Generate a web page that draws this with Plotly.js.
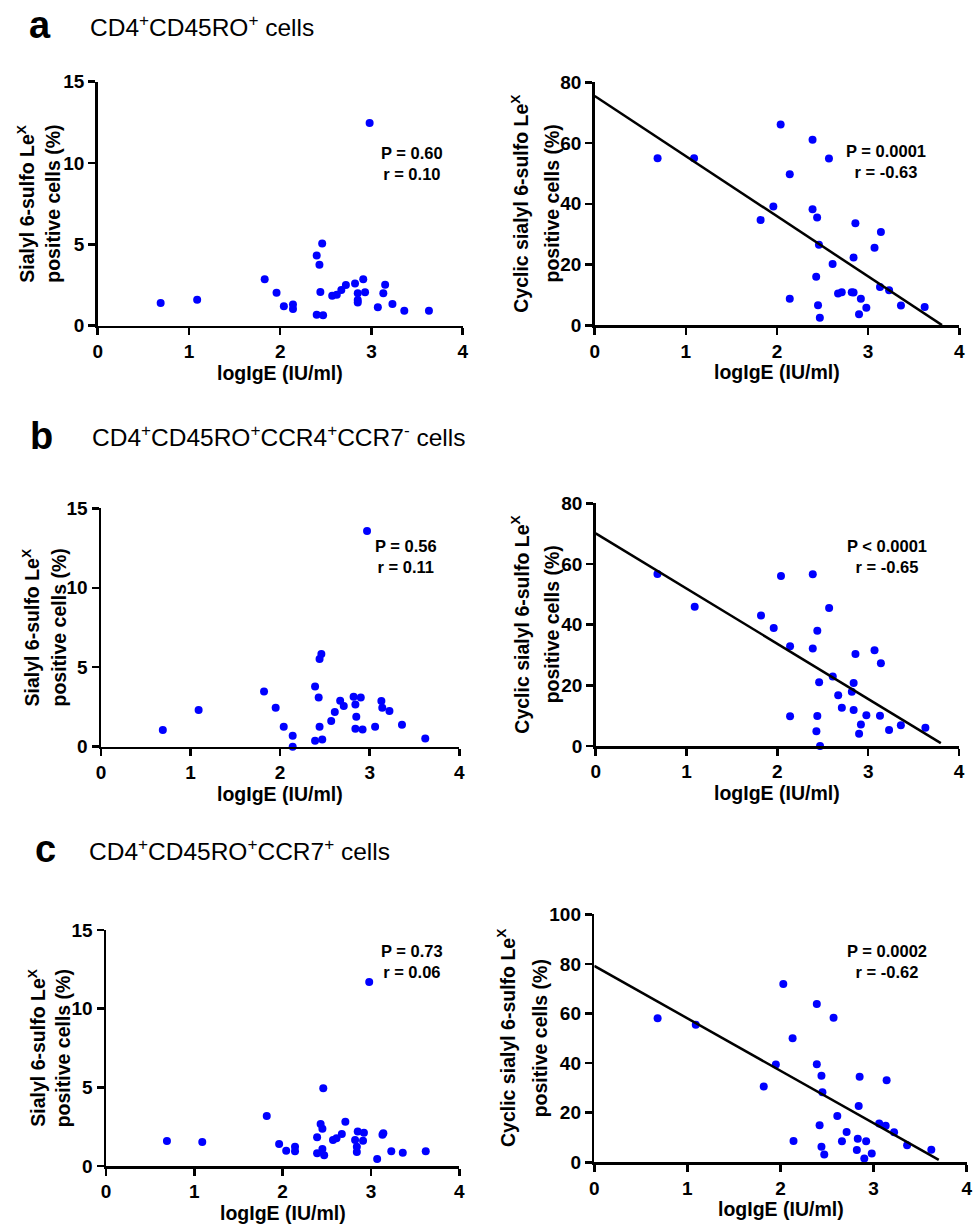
<!DOCTYPE html>
<html>
<head>
<meta charset="utf-8">
<script src="https://cdn.plot.ly/plotly-3.0.1.min.js"></script>
<style>
  html, body { margin: 0; padding: 0; background: #fff; }
  #chart { width: 973px; height: 1226px; }
</style>
</head>
<body>
<div id="chart"></div>
<script>
// ---------- data ----------
const panelLetters = ['a', 'b', 'c'];
const panelTitles = [
  'CD4<sup>+</sup>CD45RO<sup>+</sup> cells',
  'CD4<sup>+</sup>CD45RO<sup>+</sup>CCR4<sup>+</sup>CCR7<sup>-</sup> cells',
  'CD4<sup>+</sup>CD45RO<sup>+</sup>CCR7<sup>+</sup> cells'
];
const xTitle = 'logIgE (IU/ml)';
const yTitleLeft = ['Sialyl 6-sulfo Le<sup>X</sup>', 'positive cells (%)'];
const yTitleRight = ['Cyclic sialyl 6-sulfo Le<sup>X</sup>', 'positive cells (%)'];

const aLeftX = [0.69,1.09,1.83,1.96,2.04,2.14,2.14,2.40,2.43,2.46,2.44,2.40,2.47,2.57,2.62,2.67,2.72,2.82,2.85,2.85,2.85,2.91,2.93,2.98,3.07,3.13,3.15,3.23,3.36,3.63];
const aLeftY = [1.39,1.60,2.85,2.03,1.19,1.31,1.02,4.32,3.75,5.06,2.07,0.68,0.64,1.84,1.91,2.19,2.50,2.60,1.99,1.58,1.43,2.85,2.05,12.46,1.13,1.99,2.52,1.33,0.92,0.92];

const aRightX = [0.69,1.09,1.82,1.96,2.04,2.14,2.14,2.39,2.39,2.44,2.46,2.43,2.45,2.47,2.57,2.61,2.67,2.71,2.82,2.84,2.84,2.86,2.92,2.90,2.98,3.07,3.13,3.14,3.23,3.36,3.62];
const aRightY = [55.0,55.0,34.7,39.1,66.1,49.7,8.7,61.1,38.2,35.5,26.5,16.0,6.6,2.5,54.9,20.2,10.5,10.9,10.9,10.8,22.3,33.6,8.7,3.6,5.8,25.5,12.6,30.7,11.5,6.5,6.0];

const bLeftX = [0.69,1.09,1.82,1.95,2.04,2.14,2.14,2.39,2.43,2.46,2.44,2.44,2.39,2.47,2.57,2.61,2.67,2.71,2.82,2.84,2.85,2.84,2.90,2.92,2.97,3.06,3.13,3.14,3.22,3.36,3.62];
const bLeftY = [1.05,2.31,3.48,2.45,1.26,0.69,0.0,3.78,3.10,5.83,5.52,1.26,0.38,0.46,1.62,2.18,2.89,2.56,3.15,2.66,1.89,1.13,3.10,1.09,13.57,1.26,2.87,2.45,2.24,1.38,0.52];

const bRightX = [0.68,1.09,1.82,1.96,2.04,2.14,2.14,2.39,2.39,2.44,2.46,2.44,2.43,2.47,2.57,2.61,2.67,2.71,2.82,2.84,2.84,2.86,2.92,2.90,2.98,3.07,3.13,3.14,3.23,3.36,3.63];
const bRightY = [56.7,45.9,43.0,38.9,56.0,32.9,9.8,56.6,32.1,38.0,21.0,9.9,4.9,0.0,45.5,22.9,16.7,12.6,17.9,20.8,11.9,30.3,7.1,4.0,10.1,31.6,10.0,27.3,5.3,6.8,6.0];

const cLeftX = [0.69,1.09,1.82,1.96,2.04,2.14,2.14,2.39,2.43,2.45,2.46,2.39,2.45,2.47,2.57,2.61,2.67,2.71,2.82,2.85,2.84,2.84,2.91,2.92,2.98,3.07,3.13,3.14,3.23,3.36,3.62];
const cLeftY = [1.59,1.53,3.18,1.40,0.97,1.23,0.93,1.82,2.67,2.37,4.94,0.81,1.08,0.68,1.65,1.76,2.03,2.82,1.65,2.20,1.23,0.89,1.61,2.12,11.69,0.44,1.99,2.08,0.93,0.85,0.93];

const cRightX = [0.68,1.09,1.82,1.95,2.03,2.13,2.14,2.39,2.39,2.44,2.45,2.42,2.44,2.47,2.57,2.61,2.66,2.71,2.82,2.83,2.84,2.85,2.90,2.92,2.98,3.06,3.13,3.14,3.22,3.36,3.62];
const cRightY = [58.1,55.5,30.6,39.4,71.9,50.0,8.6,63.8,39.5,34.9,28.2,14.9,6.3,3.1,58.3,18.7,8.5,12.2,5.0,9.5,22.7,34.5,1.5,8.5,3.5,15.6,14.7,33.1,12.1,6.9,5.1];

// regression lines: intercept, slope, end of drawn line (x)
const fitIntercept = [75.5, 70.1, 79.2];
const fitSlope = [-19.8, -18.2, -21.15];
const fitXEnd = [3.81, 3.80, 3.70];

// statistics text
const statsLeft = [['P = 0.60', 'r = 0.10'], ['P = 0.56', 'r = 0.11'], ['P = 0.73', 'r = 0.06']];
const statsRight = [['P = 0.0001', 'r = -0.63'], ['P < 0.0001', 'r = -0.65'], ['P = 0.0002', 'r = -0.62']];

const xTicks = [0, 1, 2, 3, 4];
const yTicksLeft = [0, 5, 10, 15];
const yTicksRight = [[0, 20, 40, 60, 80], [0, 20, 40, 60, 80], [0, 20, 40, 60, 80, 100]];
const yRangeLeft = [0, 15];
const yRangeRight = [[0, 80], [0, 80], [0, 100]];

// ---------- layout geometry (pixels in the 973x1226 page) ----------
const W = 973, H = 1226;
const FONT = 'Liberation Sans, Arial, sans-serif';
const boxes = [
  // [x0, x1, yTop, yBottom]
  [97.7, 462.7, 81.7, 325.7],   // a left
  [594.7, 959.3, 82.3, 325.3],  // a right
  [101, 459.3, 508.3, 746.7],   // b left
  [595.7, 959, 503.3, 746],     // b right
  [106, 459.3, 930, 1166],      // c left
  [594.3, 966.7, 914.3, 1162.3] // c right
];
// stats annotation centre (data coords) per panel
const statPos = [[3.44, 10.0], [3.20, 53.9], [3.40, 11.96], [3.21, 62.4], [3.47, 12.97], [3.14, 80.9]];
// y title line centres (px) [line1X, line2X]
const yTitleX = [[26, 53], [520, 551.7], [30, 58], [520, 551.7], [36.7, 63.3], [506.7, 540]];
// headings: [letterX, titleX, centreY]
const headings = [[27, 88, 25], [28, 90, 436], [33, 87, 849]];

const xs = [aLeftX, aRightX, bLeftX, bRightX, cLeftX, cRightX];
const ys = [aLeftY, aRightY, bLeftY, bRightY, cLeftY, cRightY];

const bold = v => '<b>' + v + '</b>';

const traces = [];
const layout = {
  width: W, height: H,
  margin: {l: 0, r: 0, t: 0, b: 0},
  paper_bgcolor: '#ffffff',
  plot_bgcolor: '#ffffff',
  showlegend: false,
  font: {family: FONT, color: '#000000'},
  annotations: []
};

function axisBase() {
  return {
    showgrid: false, zeroline: false, showline: true,
    linecolor: '#000000', linewidth: 2.5,
    ticks: 'outside', ticklen: 7, tickwidth: 2.5, tickcolor: '#000000',
    tickfont: {family: FONT, size: 19, color: '#000000', weight: 'bold'},
    fixedrange: true
  };
}

for (let i = 0; i < 6; i++) {
  const b = boxes[i];
  const n = i + 1;
  const xa = 'x' + (n === 1 ? '' : n);
  const ya = 'y' + (n === 1 ? '' : n);
  const isRight = i % 2 === 1;
  const row = Math.floor(i / 2);

  traces.push({
    type: 'scatter', mode: 'markers',
    x: xs[i], y: ys[i], xaxis: xa, yaxis: ya,
    marker: {color: '#0000ff', size: 8},
    cliponaxis: false, hoverinfo: 'x+y'
  });
  if (isRight) {
    const x1 = fitXEnd[row];
    traces.push({
      type: 'scatter', mode: 'lines',
      x: [0, x1],
      y: [fitIntercept[row], fitIntercept[row] + fitSlope[row] * x1],
      xaxis: xa, yaxis: ya,
      line: {color: '#000000', width: 2.5},
      cliponaxis: false, hoverinfo: 'skip'
    });
  }

  const yt = isRight ? yTicksRight[row] : yTicksLeft;
  layout['xaxis' + (n === 1 ? '' : n)] = Object.assign(axisBase(), {
    domain: [b[0] / W, b[1] / W],
    anchor: ya,
    range: [0, 4],
    tickmode: 'array',
    tickvals: xTicks,
    ticktext: xTicks.map(String)
  });
  layout['yaxis' + (n === 1 ? '' : n)] = Object.assign(axisBase(), {
    domain: [1 - b[3] / H, 1 - b[2] / H],
    anchor: xa,
    range: isRight ? yRangeRight[row] : yRangeLeft,
    tickmode: 'array',
    tickvals: yt,
    ticktext: yt.map(String)
  });

  // stats
  const st = isRight ? statsRight[row] : statsLeft[row];
  layout.annotations.push({
    xref: xa, yref: ya, x: statPos[i][0], y: statPos[i][1],
    text: bold(st[0]) + '<br>' + bold(st[1]), showarrow: false,
    xanchor: 'center', yanchor: 'middle', align: 'center',
    font: {family: FONT, size: 16.5, color: '#000000'}
  });

  // x title
  layout.annotations.push({
    xref: 'paper', yref: 'paper',
    x: ((b[0] + b[1]) / 2) / W, y: 1 - (b[3] + 47) / H,
    text: bold(xTitle), showarrow: false, xanchor: 'center', yanchor: 'middle',
    font: {family: FONT, size: 19.5, color: '#000000'}
  });

  // y title (two lines)
  const ytl = isRight ? yTitleRight : yTitleLeft;
  const cy = 1 - ((b[2] + b[3]) / 2) / H;
  for (let k = 0; k < 2; k++) {
    layout.annotations.push({
      xref: 'paper', yref: 'paper',
      x: yTitleX[i][k] / W, y: cy,
      text: bold(ytl[k]), showarrow: false, textangle: -90,
      xanchor: 'center', yanchor: 'middle',
      font: {family: FONT, size: 19.5, color: '#000000'}
    });
  }
}

// headings
for (let r = 0; r < 3; r++) {
  const h = headings[r];
  layout.annotations.push({
    xref: 'paper', yref: 'paper', x: h[0] / W, y: 1 - h[2] / H,
    text: bold(panelLetters[r]), showarrow: false, xanchor: 'left', yanchor: 'middle',
    font: {family: FONT, size: 38, color: '#000000'}
  });
  layout.annotations.push({
    xref: 'paper', yref: 'paper', x: h[1] / W, y: 1 - h[2] / H,
    text: panelTitles[r], showarrow: false, xanchor: 'left', yanchor: 'middle',
    font: {family: FONT, size: 24.5, color: '#000000'}
  });
}

Plotly.newPlot('chart', traces, layout, {staticPlot: true, displayModeBar: false});
</script>
</body>
</html>
